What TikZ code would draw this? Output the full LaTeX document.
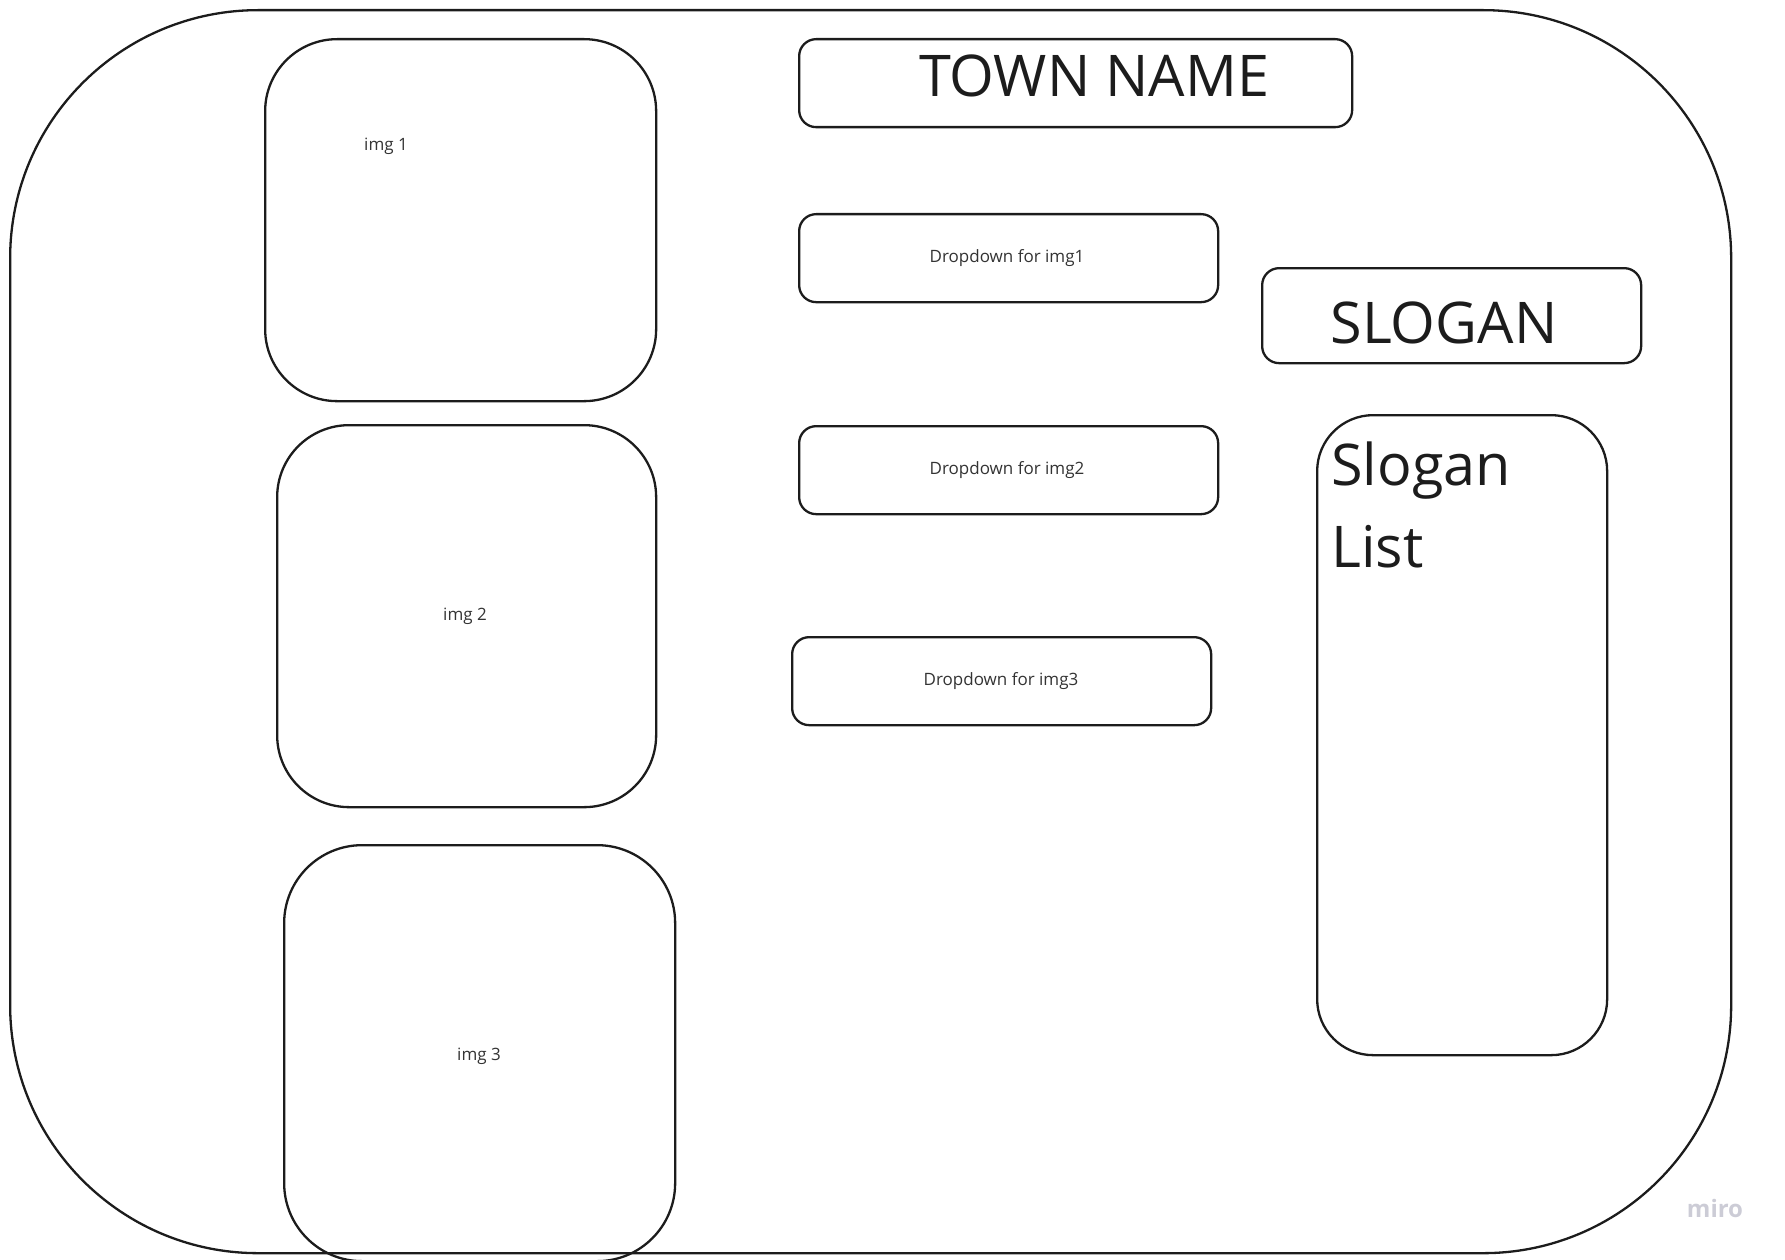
\documentclass[tikz,border=0pt]{standalone}
\usepackage{fontspec}
\setmainfont{Open Sans}
\definecolor{ink}{RGB}{28,28,28}
\definecolor{txt}{RGB}{51,51,51}
\definecolor{miroc}{RGB}{204,204,214}
\begin{document}
\begin{tikzpicture}[x=1pt,y=-1pt,
  box/.style={draw=ink,line width=2.3pt,inner sep=0pt,anchor=north west},
  small/.style={text=txt,inner sep=0pt,font=\fontsize{17}{20}\selectfont},
  big/.style={text=ink,inner sep=0pt,font=\fontsize{57.5}{70}\selectfont}]
\useasboundingbox (0,0) rectangle (1785,1260);
\clip (0,0) rectangle (1785,1260);
% outer frame
\node[box,rounded corners=248pt,minimum width=1721pt,minimum height=1243pt] (frame) at (9,9) {};
% image boxes
\node[box,rounded corners=72pt,minimum width=391pt,minimum height=362pt] (img1) at (264,38) {};
\node[box,rounded corners=72pt,minimum width=379pt,minimum height=382pt] (img2) at (276,424) {};
\node[box,rounded corners=78pt,minimum width=391pt,minimum height=416pt] (img3) at (283,844) {};
\node[small,anchor=base] (t1) at (386,151) {img 1};
\node[small,anchor=base] (t2) at (465,620) {img 2};
\node[small,anchor=base] (t3) at (479,1060) {img 3};
% town name
\node[box,rounded corners=17pt,minimum width=553pt,minimum height=88pt] (town) at (798,38) {};
\node[big,anchor=base] (townt) at (1094,97) {TOWN NAME};
% dropdowns
\node[box,rounded corners=17pt,minimum width=419pt,minimum height=88pt] (dd1) at (798,213) {};
\node[box,rounded corners=17pt,minimum width=419pt,minimum height=88pt] (dd2) at (798,425) {};
\node[box,rounded corners=17pt,minimum width=419pt,minimum height=88pt] (dd3) at (791,636) {};
\node[small,anchor=base] (d1t) at (1007,262) {Dropdown for img1};
\node[small,anchor=base] (d2t) at (1007,474) {Dropdown for img2};
\node[small,anchor=base] (d3t) at (1001,685) {Dropdown for img3};
% slogan
\node[box,rounded corners=17pt,minimum width=379pt,minimum height=95pt] (slogan) at (1261,267) {};
\node[big,anchor=base] (slogant) at (1444,343) {SLOGAN};
% slogan list
\node[box,rounded corners=56pt,minimum width=290pt,minimum height=640pt] (list) at (1316,414) {};
\node[big,anchor=base west] (l1) at (1331,485) {Slogan};
\node[big,anchor=base west] (l2) at (1331,567) {List};
% watermark
\node[text=miroc,inner sep=0pt,anchor=base,font=\fontsize{24}{28}\selectfont\bfseries] (miro) at (1715,1217) {miro};
\end{tikzpicture}
\end{document}
